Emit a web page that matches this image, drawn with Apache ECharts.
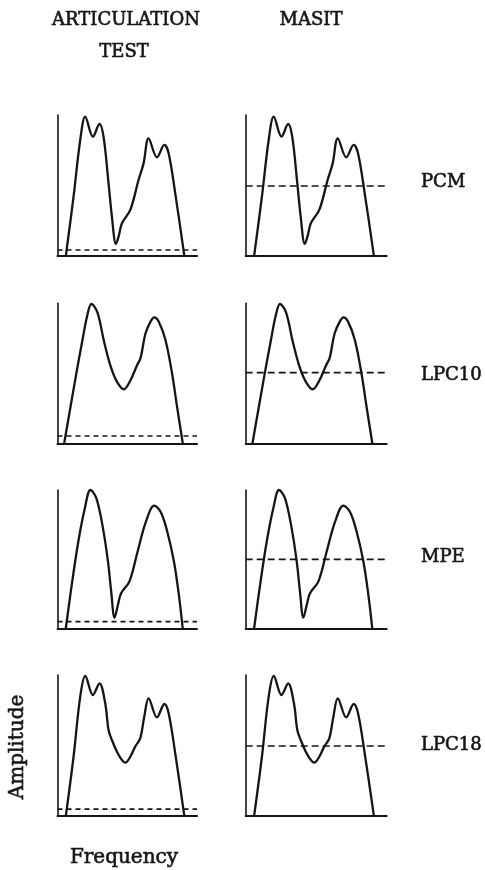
<!DOCTYPE html>
<html>
<head>
<meta charset="utf-8">
<title>Spectral envelopes and thresholds</title>
<script src="https://cdn.jsdelivr.net/npm/echarts@6/dist/echarts.min.js"></script>
<style>
  html, body { margin: 0; padding: 0; background: #fff; }
  #chart { width: 485px; height: 870px; }
</style>
</head>
<body>
<div id="chart"></div>
<script>
// Spectral envelopes, [frequency %, amplitude %] of each panel's axis span
const pcmCurve = [
  [6.0, 0], [11.5, 41.9], [16.3, 82.2], [19.9, 98.8], [25.4, 84.6], [30.1, 93.6],
  [33.0, 84.6], [36.6, 51.4], [39.0, 27.7], [41.9, 8.3], [43.8, 13.5], [46.2, 23.0],
  [52.2, 32.5], [58.1, 53.8], [61.7, 65.6], [65.3, 83.4], [71.3, 69.9], [76.6, 78.7],
  [79.7, 72.7], [84.4, 44.3], [90.9, 0]
];
const lpc10Curve = [
  [4.8, 0], [13.1, 47.6], [17.9, 73.8], [21.4, 91.7], [24.3, 99.5], [28.6, 93.5],
  [33.3, 73.0], [38.1, 55.0], [42.9, 43.5], [47.6, 38.6], [52.4, 45.2], [57.1, 56.0],
  [59.5, 60.7], [63.1, 78.6], [66.7, 86.9], [69.3, 90.0], [72.6, 86.9], [77.4, 73.8],
  [82.1, 50.0], [85.7, 26.2], [89.8, 0]
];
const mpeCurve = [
  [5.9, 0], [10.2, 31.7], [14.9, 62.8], [19.6, 86.8], [23.6, 100], [27.9, 94.0],
  [32.6, 72.4], [36.2, 48.4], [38.5, 26.9], [40.9, 8.2], [43.3, 17.3], [45.6, 25.7],
  [51.5, 34.1], [57.4, 55.6], [63.4, 77.2], [69.3, 88.7], [74.0, 84.2], [78.7, 70.0],
  [83.5, 48.4], [87.0, 24.5], [89.8, 0]
];
const lpc18Curve = [
  [6.0, 0], [11.5, 41.9], [16.3, 84.6], [19.9, 99.3], [25.4, 85.8], [30.1, 94.1],
  [34.2, 79.9], [36.6, 60.9], [39.0, 53.8], [42.6, 45.5], [46.2, 39.6], [48.6, 37.7],
  [52.2, 41.9], [55.7, 49.1], [59.3, 55.0], [62.2, 70.4], [65.3, 83.4], [71.3, 69.9],
  [76.6, 79.4], [79.7, 72.7], [84.4, 44.3], [90.9, 0]
];

const coders = ['PCM', 'LPC10', 'MPE', 'LPC18'];
const columnTitles = [['ARTICULATION', 'TEST'], ['MASIT']];
// threshold level (amplitude %) per coder, one array per column
const articulationLevels = [4.0, 5.2, 5.3, 4.7];
const masitLevels = [49.5, 50.5, 50.1, 49.5];

const curves = [pcmCurve, lpc10Curve, mpeCurve, lpc18Curve];
const levels = [articulationLevels, masitLevels];

// panel layout
const colLeft = [57.5, 245.7];
const colWidth = [139.5, 141];
const rowTop = [115, 303.3, 490, 675];
const rowHeight = [140.6, 140, 139, 140.7];
const dashPattern = [[5, 4], [7, 4]];

const INK = '#151515';
const grid = [], xAxis = [], yAxis = [], series = [];

for (let r = 0; r < coders.length; r++) {
  for (let c = 0; c < 2; c++) {
    const i = grid.length;
    grid.push({ left: colLeft[c], top: rowTop[r], width: colWidth[c], height: rowHeight[r] });
    xAxis.push({
      type: 'value', gridIndex: i, min: 0, max: 100,
      axisLine: { show: true, onZero: false, lineStyle: { color: INK, width: 2 } },
      axisTick: { show: false }, axisLabel: { show: false }, splitLine: { show: false }
    });
    yAxis.push({
      type: 'value', gridIndex: i, min: 0, max: 100,
      axisLine: { show: true, onZero: false, lineStyle: { color: INK, width: 1.6 } },
      axisTick: { show: false }, axisLabel: { show: false }, splitLine: { show: false }
    });
    series.push({
      name: coders[r] + ' envelope',
      type: 'line', xAxisIndex: i, yAxisIndex: i,
      data: curves[r], smooth: 0.35, symbol: 'none', clip: false,
      lineStyle: { color: INK, width: 2.3 },
      silent: true, animation: false
    });
    series.push({
      name: coders[r] + ' threshold',
      type: 'line', xAxisIndex: i, yAxisIndex: i,
      data: [[0, levels[c][r]], [100, levels[c][r]]],
      symbol: 'none',
      lineStyle: { color: INK, width: 1.6, type: dashPattern[c] },
      silent: true, animation: false
    });
  }
}

const SERIF = '"DejaVu Serif", "Liberation Serif", serif';
// typewriter-like heavy lettering: fill plus a thin stroke of the same ink
function label(text, x, y, size, align, rotation) {
  return {
    type: 'text', x, y, rotation: rotation || 0,
    style: {
      text, font: size + 'px ' + SERIF, fill: INK, stroke: INK, lineWidth: 0.6,
      align, verticalAlign: 'middle'
    }
  };
}
const graphic = [
  label(columnTitles[0][0], 126, 20, 18, 'center'),
  label(columnTitles[0][1], 124, 52, 18, 'center'),
  label(columnTitles[1][0], 311, 20, 18, 'center'),
  label('Amplitude', 18, 747, 20, 'center', Math.PI / 2),
  label('Frequency', 124, 858, 20, 'center')
];
const labelY = [182, 375, 557, 745];
coders.forEach((name, r) => graphic.push(label(name, 421, labelY[r], 18, 'left')));

const chart = echarts.init(document.getElementById('chart'), null, { renderer: 'canvas' });
chart.setOption({
  backgroundColor: '#ffffff',
  animation: false,
  grid, xAxis, yAxis, series, graphic
});
</script>
</body>
</html>
